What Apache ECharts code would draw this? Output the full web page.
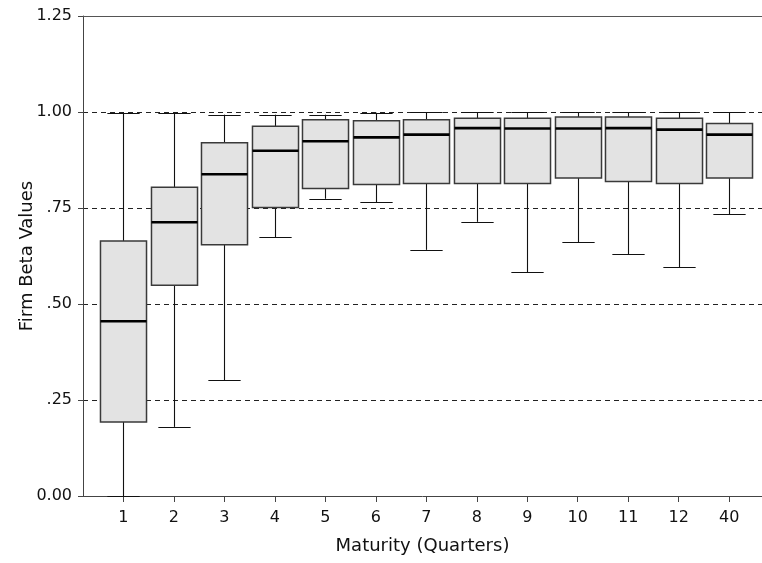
<!DOCTYPE html>
<html>
<head>
<meta charset="utf-8">
<script src="https://cdn.jsdelivr.net/npm/echarts@6/dist/echarts.min.js"></script>
<style>
html,body{margin:0;padding:0;background:#fff;}
#chart{width:762px;height:563px;}
</style>
</head>
<body>
<div id="chart"></div>
<script>
// Maturity categories (quarters)
const categories = ['1','2','3','4','5','6','7','8','9','10','11','12','40'];
// Box statistics
const whiskerLow  = [0.000, 0.180, 0.302, 0.674, 0.774, 0.765, 0.641, 0.714, 0.583, 0.661, 0.629, 0.596, 0.734];
const quartile1   = [0.193, 0.549, 0.654, 0.751, 0.801, 0.811, 0.814, 0.814, 0.814, 0.828, 0.819, 0.814, 0.828];
const medians     = [0.455, 0.713, 0.838, 0.899, 0.924, 0.934, 0.941, 0.958, 0.957, 0.957, 0.958, 0.954, 0.941];
const quartile3   = [0.664, 0.804, 0.920, 0.963, 0.980, 0.977, 0.980, 0.984, 0.984, 0.987, 0.987, 0.984, 0.970];
const whiskerHigh = [0.998, 0.998, 0.993, 0.993, 0.993, 0.998, 0.999, 0.999, 0.999, 0.999, 0.999, 0.999, 0.999];
const yTicks = [0, 0.25, 0.5, 0.75, 1.0, 1.25];

const positions = categories.map((c, i) => i + 1);
const data = categories.map((c, i) => [positions[i], whiskerLow[i], quartile1[i], medians[i], quartile3[i], whiskerHigh[i]]);

const FONT = 'DejaVu Sans';
const chart = echarts.init(document.getElementById('chart'));

function renderBox(params, api) {
  const x = api.value(0);
  const unit = api.size([1, 0])[0];
  const bh = unit * 0.456;
  const ch = unit * 0.32;
  const pLo = api.coord([x, api.value(1)]);
  const pQ1 = api.coord([x, api.value(2)]);
  const pMd = api.coord([x, api.value(3)]);
  const pQ3 = api.coord([x, api.value(4)]);
  const pHi = api.coord([x, api.value(5)]);
  const cx = Math.round(pMd[0]) + 0.5;
  const wStyle = { stroke: '#111', lineWidth: 1.1 };
  return {
    type: 'group',
    children: [
      { type: 'line', shape: { x1: cx, y1: pLo[1], x2: cx, y2: pQ1[1] }, style: wStyle },
      { type: 'line', shape: { x1: cx, y1: pQ3[1], x2: cx, y2: pHi[1] }, style: wStyle },
      { type: 'line', shape: { x1: cx - ch, y1: Math.round(pLo[1]) + 0.5, x2: cx + ch, y2: Math.round(pLo[1]) + 0.5 }, style: wStyle },
      { type: 'line', shape: { x1: cx - ch, y1: Math.round(pHi[1]) + 0.5, x2: cx + ch, y2: Math.round(pHi[1]) + 0.5 }, style: wStyle },
      { type: 'rect', shape: { x: cx - bh, y: pQ3[1], width: bh * 2, height: pQ1[1] - pQ3[1] },
        style: { fill: '#e3e3e3', stroke: '#3a3a3a', lineWidth: 1.5 } },
      { type: 'line', shape: { x1: cx - bh, y1: pMd[1], x2: cx + bh, y2: pMd[1] },
        style: { stroke: '#000', lineWidth: 2.6 } }
    ]
  };
}

chart.setOption({
  animation: false,
  backgroundColor: '#fff',
  grid: { left: 83, right: 0, top: 16, bottom: 67 },
  xAxis: [{
    type: 'value', min: 0.2, max: 13.65,
    name: 'Maturity (Quarters)', nameLocation: 'middle', nameGap: 41, nameMoveOverlap: false,
    nameTextStyle: { fontFamily: FONT, fontSize: 18, color: '#111' },
    axisLine: { show: true, lineStyle: { color: '#444', width: 1 } },
    axisTick: { show: true, length: 6, customValues: positions, lineStyle: { color: '#444' } },
    axisLabel: { customValues: positions, margin: 14, fontFamily: FONT, fontSize: 16, color: '#111',
      formatter: v => categories[Math.round(v) - 1] },
    splitLine: { show: false }
  }, {
    type: 'value', position: 'top', min: 0.2, max: 13.65,
    axisLine: { show: true, lineStyle: { color: '#555', width: 1.2 } },
    axisTick: { show: false }, axisLabel: { show: false }, splitLine: { show: false }
  }],
  yAxis: {
    type: 'value', min: 0, max: 1.25, interval: 0.25,
    name: 'Firm Beta Values', nameLocation: 'middle', nameGap: 47, nameRotate: 90, nameMoveOverlap: false,
    nameTextStyle: { fontFamily: FONT, fontSize: 18, color: '#111' },
    axisLine: { show: true, lineStyle: { color: '#444', width: 1 } },
    axisTick: { show: true, length: 5, lineStyle: { color: '#444' } },
    axisLabel: { margin: 11, fontFamily: FONT, fontSize: 16, color: '#111',
      formatter: v => v === 0 ? '0.00' : v.toFixed(2).replace(/^0/, '') },
    splitLine: { show: true, lineStyle: { color: '#222', width: 1, type: [5, 4] } }
  },
  series: [{
    type: 'custom',
    renderItem: renderBox,
    encode: { x: 0, y: [1, 2, 3, 4, 5] },
    data: data,
    clip: false
  }]
});
</script>
</body>
</html>
